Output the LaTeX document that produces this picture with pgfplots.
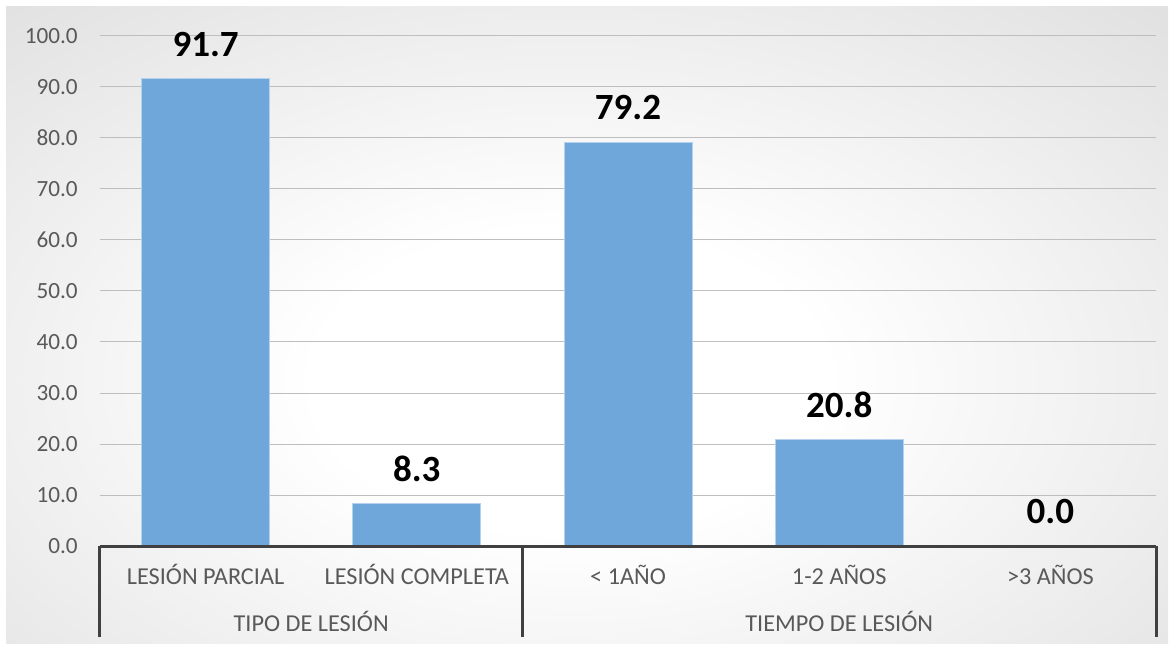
\documentclass[border=0pt]{standalone}
\usepackage{pgfplots}
\pgfplotsset{compat=1.18}
\usepackage{fontspec}
\setmainfont{Carlito}

\definecolor{barblue}{HTML}{6FA7DB}
\definecolor{baredge}{HTML}{B4D2EE}
\definecolor{ticktext}{HTML}{595959}
\definecolor{axisdark}{HTML}{404040}
\definecolor{gridgray}{HTML}{BEBEBE}

% soft radial backdrop: white core fading to light grey
\pgfdeclareradialshading{chartbg}{\pgfpoint{0bp}{0bp}}{%
  color(0bp)=(white); color(10bp)=(white); color(60bp)=(black!25); color(80bp)=(black!27)}

\newcommand{\catfont}{\fontsize{18.2}{21}\selectfont}

\begin{document}
\begin{tikzpicture}[x=0.75pt,y=0.75pt]
\useasboundingbox (0,0) rectangle (1172,647);
\fill[white] (0,0) rectangle (1172,647);
\begin{scope}
  \clip (6,4) rectangle (1168,640);
  \shade[shading=chartbg] (-70,-113) rectangle (1210,647);
\end{scope}

\begin{axis}[
  at={(75pt,75.75pt)}, anchor=south west,
  scale only axis, width=792pt, height=382.5pt,
  xmin=-0.5, xmax=4.5, ymin=0, ymax=100,
  clip=false,
  axis line style={draw=none},
  major tick length=0pt,
  ymajorgrids, grid style={gridgray, line width=0.75pt},
  ytick={0,10,...,100},
  xtick={0,1,2,3,4},
  xticklabels={LESIÓN PARCIAL, LESIÓN COMPLETA, < 1AÑO, 1-2 AÑOS, >3 AÑOS},
  /pgf/number format/fixed,
  /pgf/number format/precision=1,
  /pgf/number format/zerofill,
  /pgf/number format/assume math mode=true,
  xticklabel style={font=\catfont, text=ticktext,
    anchor=base, inner sep=0pt, yshift=-28.5pt},
  yticklabel style={font=\fontsize{17.4}{20}\selectfont, text=ticktext,
    anchor=east, inner sep=0pt, xshift=-16.5pt},
  ybar, bar width=96pt,
  nodes near coords,
  nodes near coords style={font=\fontsize{27.75}{30}\bfseries\selectfont,
    text=black, anchor=south, inner sep=0pt, yshift=16pt},
]
\addplot[fill=barblue, draw=baredge, line width=0.75pt] coordinates {
  (0,91.7) (1,8.3) (2,79.2) (3,20.8) (4,0.0)
};

% two-level category axis
\draw[axisdark, line width=2.25pt] (axis cs:-0.5,0) -- (axis cs:4.5,0);
\draw[axisdark, line width=2.25pt] (axis cs:-0.5,0) -- ([yshift=-68.25pt]axis cs:-0.5,0);
\draw[axisdark, line width=2.25pt] (axis cs:1.5,0) -- ([yshift=-68.25pt]axis cs:1.5,0);
\draw[axisdark, line width=2.25pt] (axis cs:4.5,0) -- ([yshift=-68.25pt]axis cs:4.5,0);
\node[anchor=base, inner sep=0pt, text=ticktext, font=\catfont]
  at ([yshift=-63.75pt]axis cs:0.5,0) {TIPO DE LESIÓN};
\node[anchor=base, inner sep=0pt, text=ticktext, font=\catfont]
  at ([yshift=-63.75pt]axis cs:3,0) {TIEMPO DE LESIÓN};
\end{axis}
\end{tikzpicture}
\end{document}
